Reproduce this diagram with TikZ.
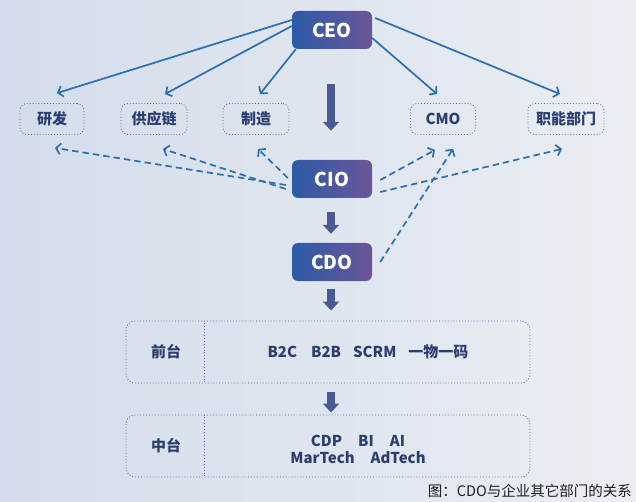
\documentclass[tikz,border=0pt]{standalone}
\usepackage{fontspec}
\setmainfont{Noto Sans CJK SC}
\usetikzlibrary{arrows.meta,calc}
\definecolor{bgL}{HTML}{D3DDEB}
\definecolor{bgR}{HTML}{EBEEF3}
\definecolor{exL}{HTML}{2D5BA8}
\definecolor{exR}{HTML}{6B5698}
\definecolor{navy}{HTML}{2B3E70}
\definecolor{dotc}{HTML}{5D6CA3}
\definecolor{arrc}{HTML}{2A6FB2}
\definecolor{bigc}{HTML}{4A5A96}
\definecolor{capc}{HTML}{1E1E1E}
\tikzset{
  exec/.style={minimum width=80pt,minimum height=38pt,rounded corners=6pt,
    left color=exL,right color=exR,text=white,inner sep=0pt,
    font=\bfseries\fontsize{19}{21}\selectfont},
  dept/.style={draw=dotc,dotted,line width=0.9pt,rounded corners=7pt,
    minimum height=31pt,text=navy,inner sep=0pt,
    font=\bfseries\fontsize{15}{17}\selectfont},
  bigbox/.style={draw=dotc,dotted,line width=0.9pt,rounded corners=9pt,
    minimum width=404pt,minimum height=62pt,inner sep=0pt},
  boxtxt/.style={text=navy,font=\bfseries\fontsize{15}{18}\selectfont,align=center,inner sep=0pt},
  boxlbl/.style={text=navy,font=\bfseries\fontsize{15}{17}\selectfont,inner sep=0pt},
  solidarr/.style={draw=arrc,line width=1.7pt,-{Straight Barb[length=4.5pt,width=11pt]}},
  dasharr/.style={draw=arrc,line width=1.7pt,dash pattern=on 6.5pt off 4pt,
    -{Straight Barb[length=4.5pt,width=11pt]}},
  bigarrow/.style={draw=bigc,line width=7.5pt,-{Triangle[width=16pt,length=9pt]}},
}
\begin{document}
\begin{tikzpicture}[x=1pt,y=-1pt]
\useasboundingbox (0,0) rectangle (636,502);
\shade[left color=bgL,right color=bgR] (0,0) rectangle (636,502);

% executives
\node[exec] (ceo) at (332,30) {CEO};
\node[exec] (cio) at (332,179) {CIO};
\node[exec] (cdo) at (332,262) {CDO};

% departments
\node[dept,minimum width=64pt] (rd) at (52,119) {研发};
\node[dept,minimum width=66pt] (sc) at (154,119) {供应链};
\node[dept,minimum width=66pt] (mf) at (256,119) {制造};
\node[dept,minimum width=65pt] (cmo) at (443,119) {CMO};
\node[dept,minimum width=76pt] (fn) at (566,119) {职能部门};

% CEO solid arrows
\draw[solidarr] ([yshift=10pt]ceo.west) -- ([xshift=5pt,yshift=10pt]rd.north);
\draw[solidarr] ([yshift=4pt]ceo.west) -- ([xshift=11pt,yshift=9pt]sc.north);
\draw[solidarr] ([xshift=4pt]ceo.south west) -- ([xshift=4pt,yshift=9pt]mf.north);
\draw[solidarr] ([yshift=-8pt]ceo.east) -- ([xshift=-6pt,yshift=9pt]cmo.north);
\draw[solidarr] ([xshift=3pt,yshift=12pt]ceo.east) -- ([xshift=-6pt,yshift=9pt]fn.north);

% CIO dashed arrows
\draw[dasharr] ([xshift=-6pt,yshift=-6pt]cio.west) -- ([xshift=3pt,yshift=-13pt]rd.south);
\draw[dasharr] ([xshift=-6pt,yshift=-10pt]cio.west) -- ([xshift=9pt,yshift=-14pt]sc.south);
\draw[dasharr] ([xshift=-4pt,yshift=1pt]cio.west) -- ([xshift=2pt,yshift=-14pt]mf.south);
\draw[dasharr] ([xshift=8pt,yshift=-1pt]cio.east) -- ([xshift=-8pt,yshift=-15pt]cmo.south);
\draw[dasharr] ([xshift=8pt,yshift=-13pt]cio.east) -- ([xshift=-4pt,yshift=-14pt]fn.south);
\draw[dasharr] ([xshift=8pt]cdo.east) -- ([xshift=10pt,yshift=-14pt]cmo.south);

% platform boxes
\node[bigbox] (ft) at (328,352) {};
\node[bigbox] (mt) at (328,446) {};
\draw[draw=dotc,dotted,line width=0.9pt] ([xshift=79pt]ft.north west) -- ([xshift=79pt]ft.south west);
\draw[draw=dotc,dotted,line width=0.9pt] ([xshift=79pt]mt.north west) -- ([xshift=79pt]mt.south west);
\node[boxlbl] (ftl) at (166,352) {前台};
\node[boxlbl] (mtl) at (166,446) {中台};
\node[boxtxt] (ftt) at (368,352) {B2C\hspace{14pt}B2B\hspace{12pt}SCRM\hspace{12pt}一物一码};
\node[boxtxt] (mtt) at (358,449) {CDP\hspace{16pt}BI\hspace{16pt}AI\\[-1pt] MarTech\hspace{16pt}AdTech};

% big arrows
\draw[bigarrow] ([xshift=-1pt,yshift=-35pt]ceo.south) -- ([xshift=-1pt,yshift=29pt]cio.north);
\draw[bigarrow] ([xshift=-1pt,yshift=-14pt]cio.south) -- ([xshift=-1pt,yshift=9pt]cdo.north);
\draw[bigarrow] ([xshift=-1pt,yshift=-8pt]cdo.south) -- ([xshift=3pt,yshift=10pt]ft.north);
\draw[bigarrow] ([xshift=3pt,yshift=-9pt]ft.south) -- ([xshift=3pt,yshift=2pt]mt.north);

% caption
\node[anchor=east,text=capc,font=\fontsize{14.5}{16}\selectfont,inner sep=0pt] (cap) at (632,491) {图：CDO与企业其它部门的关系};
\end{tikzpicture}
\end{document}
